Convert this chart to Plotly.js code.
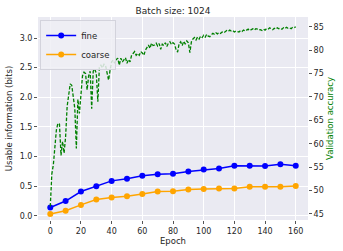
<!DOCTYPE html>
<html><head><meta charset="utf-8">
<script src="https://cdn.plot.ly/plotly-3.0.1.min.js"></script>
<style>html,body{margin:0;padding:0;background:#fff}#chart{width:343px;height:251px}</style>
</head><body><div id="chart"></div>
<script>
const infoEpochs = [0,10,20,30,40,50,60,70,80,90,100,110,120,130,140,150,160];
const fineInfo = [0.14,0.25,0.41,0.50,0.59,0.625,0.675,0.70,0.71,0.75,0.78,0.80,0.845,0.845,0.84,0.87,0.845];
const coarseInfo = [0.03,0.085,0.185,0.275,0.31,0.33,0.37,0.41,0.415,0.445,0.455,0.46,0.46,0.49,0.49,0.49,0.505];
const valAccuracy = [
46.6,53.5,55.5,59.5,63,64.4,64.2,57.5,60.5,58,
61.5,68,70,72.8,72.5,70.5,67.5,59,69.5,66.5,
70.5,74.5,75.3,75,71.5,74.5,75.5,67.5,75.5,76,
75,69,76.3,76.8,76.2,77,76.8,75.5,73.6,75.8,
77.5,77.9,77.2,78,78.3,76.8,78.3,77.5,77.9,78.4,
77.2,78,77.5,78.9,79.3,79.7,78.9,79.3,78.9,79.7,
79.4,78.9,80,80.7,81.1,80.4,81.5,81,81.1,81.5,
80.9,81.4,80.2,81.3,81,81.6,80.8,81.5,81.8,81.2,
81.6,81.3,80.1,79.6,81.4,81.8,81,81.9,81.3,82,
81.6,79.5,81.8,82.4,82.7,82.2,82.8,82.4,83,82.7,
83.2,82.8,83.4,83,82.9,83.3,83.6,83.4,83.7,83.5,
83.8,83.6,83.9,83.7,84,84.2,84,84.3,84.1,84.2,
83.9,84.1,84,83.9,84.2,84,84.3,84.1,84.3,84.5,
84.2,84.4,84.6,84.3,84.6,84.5,84.3,84.4,84.2,84.5,
84.3,84.6,84.5,84.8,84.6,84.4,84.7,84.5,84.8,84.6,
84.7,84.5,84.8,84.6,84.9,84.7,84.8,84.6,84.9,84.8,
85.0];
const accEpochs = valAccuracy.map((_, i) => i);
const titleText = 'Batch size: 1024';
const xTitle = 'Epoch';
const yTitle = 'Usable information (bits)';
const y2Title = 'Validation accuracy';

const font = {family: 'DejaVu Sans, sans-serif', size: 8, color: '#262626'};
const traces = [
  {x: infoEpochs, y: fineInfo, name: 'fine', type: 'scatter', mode: 'lines+markers',
   line: {color: 'blue', width: 1.5}, marker: {color: 'blue', size: 6}},
  {x: infoEpochs, y: coarseInfo, name: 'coarse', type: 'scatter', mode: 'lines+markers',
   line: {color: 'orange', width: 1.5}, marker: {color: 'orange', size: 6}},
  {x: accEpochs, y: valAccuracy, name: 'accuracy', type: 'scatter', mode: 'lines', yaxis: 'y2',
   showlegend: false, line: {color: 'green', width: 1.3, dash: '3.5px,1.8px'}}
];
const layout = {
  width: 343, height: 251,
  margin: {l: 38, r: 35, t: 17, b: 31},
  paper_bgcolor: '#ffffff', plot_bgcolor: '#EAEAF2',
  font: font,
  title: {text: titleText, x: 0.5, xref: 'paper', y: 1, yref: 'paper', yanchor: 'bottom', pad: {b: 3}, font: {family: font.family, size: 9, color: '#262626'}},
  xaxis: {range: [-8, 168], tick0: 0, dtick: 20, showgrid: true, gridcolor: '#ffffff', gridwidth: 1,
          zeroline: false, showline: false, ticks: 'outside', ticklen: 3, tickcolor: '#555', tickwidth: 1,
          title: {text: xTitle, standoff: 3, font: {size: 8.5}}},
  yaxis: {range: [-0.07, 3.355], tick0: 0, dtick: 0.5, tickformat: '.1f', showgrid: true, gridcolor: '#ffffff', gridwidth: 1,
          zeroline: false, showline: false, ticks: 'outside', ticklen: 3, tickcolor: '#555', tickwidth: 1,
          title: {text: yTitle, standoff: 5, font: {size: 8.5}}},
  yaxis2: {range: [43.7, 87.1], tick0: 45, dtick: 5, overlaying: 'y', side: 'right', showgrid: false,
           zeroline: false, showline: false, ticks: 'outside', ticklen: 3, tickcolor: '#555', tickwidth: 1,
           title: {text: y2Title, standoff: 4, font: {size: 8.5, color: 'green'}}},
  legend: {x: 0.008, y: 0.985, xanchor: 'left', yanchor: 'top', bgcolor: 'rgba(238,238,244,0.85)',
           bordercolor: '#d3d3dc', borderwidth: 1, font: {size: 8.5}, itemwidth: 30, tracegroupgap: 0},
  showlegend: true
};
Plotly.newPlot('chart', traces, layout, {displayModeBar: false, staticPlot: true});
</script></body></html>
